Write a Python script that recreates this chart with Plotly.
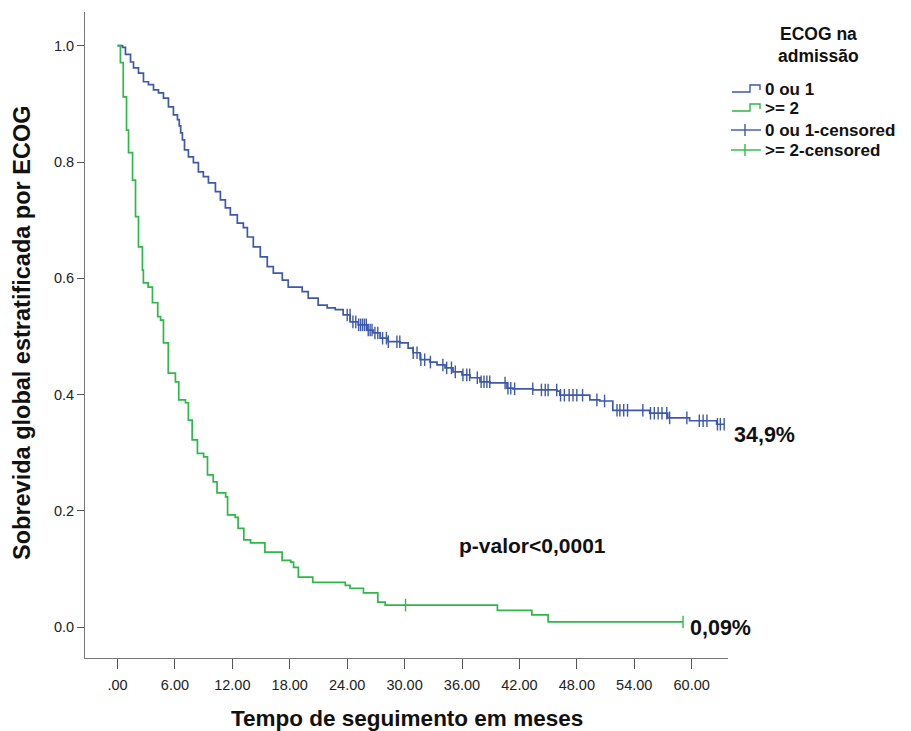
import numpy as np
import plotly.graph_objects as go

# Kaplan-Meier estimates, ECOG 0 ou 1 (event times in months, survival)
t_ecog01 = [0, 0.52, 0.83, 1.36, 1.67, 2.19, 2.71, 3.23, 3.76, 4.28, 4.80, 5.32, 5.84, 6.26,
            6.45, 6.6, 6.78, 7.0, 7.41, 7.93, 8.45, 8.97, 9.50, 10.23, 10.75, 11.27, 11.79,
            12.52, 13.15, 13.57, 14.19, 14.92, 15.65, 16.28, 17.22, 17.84, 19.30, 19.93,
            20.97, 21.91, 22.75, 23.58, 24.31, 25.15, 26.09, 26.71, 27.44, 28.28, 29.53,
            30.37, 30.89, 31.62, 32.66, 33.39, 34.23, 35.06, 36.00, 36.84, 37.88, 38.92,
            40.70, 41.32, 43.41, 45.91, 46.23, 49.36, 50.40, 51.76, 55.62, 57.50, 59.79,
            62.61]
s_ecog01 = [1.0, 0.997, 0.985, 0.972, 0.962, 0.953, 0.938, 0.933, 0.924, 0.919, 0.910, 0.895,
            0.881, 0.873, 0.862, 0.850, 0.838, 0.821, 0.809, 0.799, 0.783, 0.775, 0.764,
            0.749, 0.735, 0.721, 0.709, 0.695, 0.687, 0.671, 0.654, 0.637, 0.620, 0.609,
            0.597, 0.585, 0.577, 0.566, 0.554, 0.549, 0.546, 0.537, 0.525, 0.520, 0.511,
            0.506, 0.497, 0.491, 0.489, 0.480, 0.472, 0.460, 0.456, 0.451, 0.446, 0.439,
            0.434, 0.429, 0.422, 0.420, 0.411, 0.410, 0.408, 0.406, 0.399, 0.391, 0.389,
            0.373, 0.368, 0.360, 0.355, 0.349]
t_end_ecog01 = 63.4

# Censored observations, ECOG 0 ou 1
c_ecog01 = [24.0, 24.3, 24.6, 24.9, 25.2, 25.4, 25.6, 25.8, 26.0, 26.2, 26.4, 26.6, 26.9,
            27.2, 27.7, 28.1, 28.3, 29.2, 29.5, 30.9, 31.3, 31.7, 32.1, 32.7, 34.0, 34.4,
            34.9, 35.3, 36.1, 36.5, 36.8, 37.6, 38.0, 38.3, 38.6, 38.9, 40.5, 40.8, 41.1,
            41.5, 43.4, 44.3, 44.7, 45.0, 45.9, 46.3, 46.7, 47.2, 47.6, 48.0, 48.6, 50.1,
            50.9, 52.2, 52.5, 52.9, 53.3, 54.9, 55.7, 56.1, 56.5, 56.9, 57.4, 57.7, 59.5,
            60.8, 61.2, 61.6, 62.7, 63.0, 63.4]

# Kaplan-Meier estimates, ECOG >= 2
t_ecog2 = [0, 0.3, 0.6, 0.94, 1.15, 1.57, 1.88, 2.19, 2.6, 2.7, 3.2, 3.65, 4.2, 4.5, 4.8,
           5.3, 6.05, 6.4, 7.1, 7.4, 7.8, 8.35, 9.0, 9.4, 10.0, 10.4, 11.3, 11.5, 12.3,
           12.6, 13.2, 13.9, 15.4, 17.2, 18.1, 18.4, 18.9, 20.4, 23.8, 24.3, 25.7, 27.2,
           27.97, 39.7, 43.3, 45.0]
s_ecog2 = [1.0, 0.971, 0.912, 0.855, 0.816, 0.769, 0.706, 0.654, 0.614, 0.592, 0.585, 0.558,
           0.534, 0.528, 0.489, 0.437, 0.422, 0.391, 0.386, 0.356, 0.322, 0.299, 0.293,
           0.262, 0.250, 0.231, 0.224, 0.193, 0.189, 0.170, 0.150, 0.145, 0.129, 0.115,
           0.112, 0.103, 0.086, 0.077, 0.072, 0.067, 0.059, 0.043, 0.038, 0.029, 0.021,
           0.009]
t_end_ecog2 = 59.1

# Censored observations, ECOG >= 2
c_ecog2 = [30.1, 59.1]

x_ticks = [0, 6, 12, 18, 24, 30, 36, 42, 48, 54, 60]
x_ticktext = [".00", "6.00", "12.00", "18.00", "24.00", "30.00", "36.00", "42.00",
              "48.00", "54.00", "60.00"]
y_ticks = [0.0, 0.2, 0.4, 0.6, 0.8, 1.0]
y_ticktext = ["0.0", "0.2", "0.4", "0.6", "0.8", "1.0"]

BLUE = "#3E58AC"
GREEN = "#2EB848"
FONT = "Liberation Sans, Arial, sans-serif"


def surv_at(times, surv, points):
    idx = np.searchsorted(np.asarray(times), np.asarray(points), side="right") - 1
    return np.asarray(surv)[idx]


fig = go.Figure()

for t, s, t_end, cens, color in [
    (t_ecog01, s_ecog01, t_end_ecog01, c_ecog01, BLUE),
    (t_ecog2, s_ecog2, t_end_ecog2, c_ecog2, GREEN),
]:
    fig.add_trace(go.Scatter(
        x=list(t) + [t_end], y=list(s) + [s[-1]], mode="lines",
        line=dict(color=color, width=1.7, shape="hv"),
        showlegend=False, hoverinfo="skip"))
    fig.add_trace(go.Scatter(
        x=cens, y=surv_at(t, s, cens), mode="markers",
        marker=dict(symbol="line-ns", size=9, line=dict(color=color, width=1.4)),
        showlegend=False, hoverinfo="skip"))

# Figure geometry helpers for hand-placed text and legend (pixel -> paper)
W, H = 911, 731
ML, MR, MT, MB = 85, 183, 12, 73
PW, PH = W - ML - MR, H - MT - MB


def px(xp):
    return (xp - ML) / PW


def py(yp):
    return (H - MB - yp) / PH


def bold_text(text, x, y, size, xanchor="center", angle=0):
    return dict(xref="paper", yref="paper", x=px(x), y=py(y), xanchor=xanchor,
                yanchor="middle", text=f"<b>{text}</b>", showarrow=False, textangle=angle,
                borderpad=0, font=dict(family=FONT, size=size, color="#111"))


shapes = []
annotations = [
    bold_text("ECOG na", 818, 34, 17.5),
    bold_text("admissão", 818, 56, 17.5),
]

legend_rows = [
    ("0 ou 1", BLUE, 89, "step"),
    (">= 2", GREEN, 108, "step"),
    ("0 ou 1-censored", BLUE, 130, "cross"),
    (">= 2-censored", GREEN, 150, "cross"),
]
for label, color, yc, kind in legend_rows:
    if kind == "step":
        path = (f"M {px(732)} {py(yc + 3)} L {px(750)} {py(yc + 3)} L {px(750)} {py(yc - 4)} "
                f"L {px(760)} {py(yc - 4)} L {px(760)} {py(yc + 1)}")
        shapes.append(dict(type="path", xref="paper", yref="paper", path=path,
                           line=dict(color=color, width=1.4)))
    else:
        shapes.append(dict(type="line", xref="paper", yref="paper",
                           x0=px(731), x1=px(761), y0=py(yc), y1=py(yc),
                           line=dict(color=color, width=1.4)))
        shapes.append(dict(type="line", xref="paper", yref="paper",
                           x0=px(745), x1=px(745), y0=py(yc - 6), y1=py(yc + 6),
                           line=dict(color=color, width=1.4)))
    annotations.append(bold_text(label, 764, yc, 17, xanchor="left"))

annotations += [
    bold_text("34,9%", 733, 435, 21.5, xanchor="left"),
    bold_text("0,09%", 689, 628, 21.5, xanchor="left"),
    bold_text("p-valor<0,0001", 532, 545, 21),
    bold_text("Tempo de seguimento em meses", 407, 718, 22.5),
    bold_text("Sobrevida global estratificada por ECOG", 22, 333, 23.5, angle=-90),
]

fig.update_layout(
    width=W, height=H,
    margin=dict(l=ML, r=MR, t=MT, b=MB),
    paper_bgcolor="white", plot_bgcolor="white",
    font=dict(family=FONT, color="#222"),
    shapes=shapes, annotations=annotations,
    xaxis=dict(
        range=[-3.4, 63.8], tickvals=x_ticks, ticktext=x_ticktext,
        showgrid=False, zeroline=False, showline=True, linecolor="#777", linewidth=1,
        ticks="outside", ticklen=10, tickcolor="#555", tickwidth=1,
        ticklabelstandoff=4,
        tickfont=dict(family=FONT, size=14.5, color="#222"),
    ),
    yaxis=dict(
        range=[-0.053, 1.058], tickvals=y_ticks, ticktext=y_ticktext,
        showgrid=False, zeroline=False, showline=True, linecolor="#777", linewidth=1,
        ticks="outside", ticklen=7, tickcolor="#555", tickwidth=1,
        tickfont=dict(family=FONT, size=14.5, color="#222"),
    ),
)

fig.write_html("out.html")
